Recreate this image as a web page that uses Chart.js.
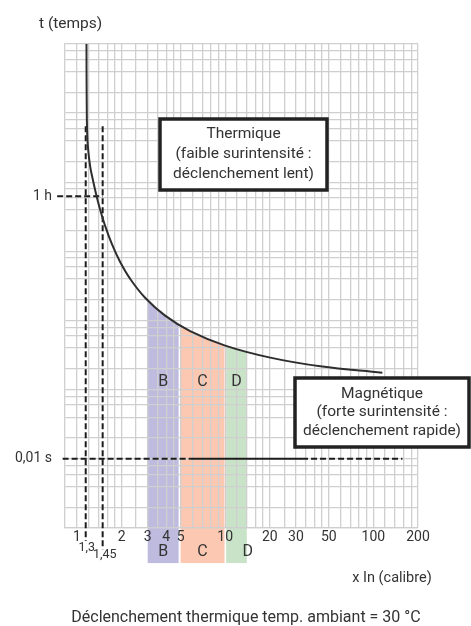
<!DOCTYPE html>
<html>
<head>
<meta charset="utf-8">
<script src="https://cdn.jsdelivr.net/npm/chart.js@4/dist/chart.umd.min.js"></script>
<style>
body { margin: 0; background: #fff; }
#cadre { width: 471px; height: 626px; position: relative; }
</style>
</head>
<body>
<div id="cadre"><canvas id="myChart"></canvas></div>
<script>
//courbe de déclenchement (x = multiple de In, y = temps sur le papier log)
var courbe_x = [1.159, 1.163, 1.177, 1.224, 1.283, 1.344, 1.430, 1.546, 1.724, 1.952, 2.281, 2.881, 3.933, 5.801, 10.0, 20.14, 43.85, 115];
var courbe_y = [1e7, 1.54e6, 4.06e5, 1.75e5, 1.06e5, 6.81e4, 4.07e4, 2.36e4, 1.26e4, 7090, 4035, 2140, 1178, 702, 434, 291, 218, 176];

//zones magnétiques B, C, D
var types_courbe = ["B", "C", "D"];
var zone_debut = [3.0, 5.0, 10.15];
var zone_fin = [4.85, 9.9, 14.0];

//graduations
var x_graduations = [1, 2, 3, 4, 5, 10, 20, 30, 50, 100, 200];
var y_graduations = [62700, 10];
var y_etiquettes = ["1 h", "0,01 s"];

//seuils thermiques 1,3 et 1,45
var seuils_x = [1.145, 1.49];
var seuils_etiquettes = ["1,3", "1,45"];
var seuils_bas = [0.648, 0.49];
var seuils_haut = 6.48e5;

//ligne 0,01 s
var magn_pointille1 = [0.8, 5.8];
var magn_continu = [5.8, 33];
var magn_pointille2 = [33, 157];

var couleurs_zone = ["#bfbbdf", "#fdc8b1", "#c9e3c8"];
var police = "Roboto, 'DejaVu Sans', sans-serif";
var texte = "#333";

//lignes du papier log
var x_grille = [];
[1, 1.2, 1.4, 1.6, 1.8, 2, 2.5, 3, 3.5, 4, 4.5, 5, 6, 7, 8, 9].forEach(function (m) {
    [1, 10, 100].forEach(function (d) {
        var v = Math.round(m * d * 1000) / 1000;
        if (v <= 200) x_grille.push(v);
    });
});
var y_grille = [1e7];
for (var k = 0; k < 7; k++) {
    [1, 2, 4, 6, 8].forEach(function (m) { y_grille.push(m * Math.pow(10, k)); });
}

function proche(a, b) { return Math.abs(a - b) < 1e-6 * Math.max(a, b); }

function pointsSegment(x0, x1, y) { return [{x: x0, y: y}, {x: x1, y: y}]; }

var lignes = [
    {
        data: courbe_x.map(function (v, i) { return {x: v, y: courbe_y[i]}; }),
        borderColor: "#2e2e2e", borderWidth: 2, tension: 0.4
    },
    {data: pointsSegment(0.735, 1.49, 62700), borderDash: [6, 3], clip: false},
    {data: pointsSegment(magn_pointille1[0], magn_pointille1[1], 10), borderDash: [6, 3], clip: false},
    {data: pointsSegment(magn_continu[0], magn_continu[1], 10), clip: false},
    {data: pointsSegment(magn_pointille2[0], magn_pointille2[1], 10), borderDash: [6, 3], clip: false}
];
seuils_x.forEach(function (v, i) {
    lignes.push({data: [{x: v, y: seuils_haut}, {x: v, y: seuils_bas[i]}], borderDash: [6, 3], clip: false});
});
lignes.forEach(function (d) {
    d.showLine = true;
    d.pointRadius = 0;
    d.borderColor = d.borderColor || "#1c1c1c";
    d.borderWidth = d.borderWidth || 2;
});

function ecrire(ctx, txt, x, y, taille, align) {
    ctx.font = taille + "px " + police;
    ctx.fillStyle = texte;
    ctx.textAlign = align || "center";
    ctx.textBaseline = "middle";
    ctx.fillText(txt, x, y);
}

function boite(ctx, x, y, w, h, lignesTexte, pas) {
    ctx.fillStyle = "#fff";
    ctx.fillRect(x, y, w, h);
    ctx.lineWidth = 3.5;
    ctx.strokeStyle = "#222";
    ctx.strokeRect(x, y, w, h);
    var y0 = y + h / 2 - pas * (lignesTexte.length - 1) / 2;
    lignesTexte.forEach(function (t, i) { ecrire(ctx, t, x + w / 2, y0 + i * pas, 15.5); });
}

var annotations = {
    id: "annotations",
    beforeDraw: function (chart) {
        //zones colorées sous la courbe
        var ctx = chart.ctx, sx = chart.scales.x, sy = chart.scales.y;
        var ligne = chart.getDatasetMeta(0).dataset;
        var pts = ligne.points;
        var bas = sy.getPixelForValue(0.31);
        types_courbe.forEach(function (t, i) {
            var x0 = sx.getPixelForValue(zone_debut[i]);
            var x1 = sx.getPixelForValue(zone_fin[i]);
            ctx.save();
            ctx.beginPath();
            ctx.rect(x0, 0, x1 - x0, bas);
            ctx.clip();
            ctx.beginPath();
            ligne.path(ctx);
            ctx.lineTo(pts[pts.length - 1].x, bas);
            ctx.lineTo(pts[0].x, bas);
            ctx.closePath();
            ctx.fillStyle = couleurs_zone[i];
            ctx.fill();
            ctx.restore();
        });
    },
    afterDatasetsDraw: function (chart) {
        var ctx = chart.ctx, sx = chart.scales.x;
        ctx.save();
        //lettres dans les zones et sous l'axe
        types_courbe.forEach(function (t, i) {
            var x0 = sx.getPixelForValue(zone_debut[i]);
            var x1 = sx.getPixelForValue(zone_fin[i]);
            ecrire(ctx, t, (x0 + x1) / 2, 382, 16);
            ecrire(ctx, t, i === 2 ? x1 + 1 : (x0 + x1) / 2, 552, 16);
        });
        seuils_x.forEach(function (v, i) {
            ecrire(ctx, seuils_etiquettes[i], sx.getPixelForValue(v) + (i === 0 ? 1 : 2), i === 0 ? 548 : 555, 12.5);
        });
        //titres
        ecrire(ctx, "t (temps)", 39, 24, 15.5, "left");
        ecrire(ctx, "x In (calibre)", 392, 578, 14.5);
        ecrire(ctx, "Déclenchement thermique temp. ambiant = 30 °C", 246, 618, 16);
        //encadrés
        boite(ctx, 160, 119, 167, 71, ["Thermique", "(faible surintensité :", "déclenchement lent)"], 20);
        boite(ctx, 295, 378, 174, 69, ["Magnétique", "(forte surintensité :", "déclenchement rapide)"], 18.7);
        ctx.restore();
    }
};

var ctx = document.getElementById("myChart");
var myChart = new Chart(ctx, {
    type: "scatter",
    data: {datasets: lignes},
    plugins: [annotations],
    options: {
        responsive: true,
        maintainAspectRatio: false,
        animation: false,
        layout: {padding: {left: 0, right: 53, top: 44, bottom: 0}},
        plugins: {legend: {display: false}, tooltip: {enabled: false}},
        scales: {
            x: {
                type: "logarithmic",
                min: 0.83,
                max: 200,
                afterFit: function (s) { s.height = 98; },
                afterBuildTicks: function (s) {
                    s.ticks = x_grille.map(function (v) { return {value: v}; });
                },
                grid: {color: "#cfcfcf", lineWidth: 1.3, drawTicks: false},
                border: {color: "#cfcfcf", width: 1.3},
                ticks: {
                    autoSkip: false, maxRotation: 0, padding: 1,
                    color: texte, font: {family: police, size: 14},
                    callback: function (v) {
                        for (var i = 0; i < x_graduations.length; i++) {
                            if (proche(v, x_graduations[i])) return String(x_graduations[i]);
                        }
                        return "";
                    }
                }
            },
            y: {
                type: "logarithmic",
                min: 1,
                max: 1e7,
                afterFit: function (s) { s.width = 65; },
                afterBuildTicks: function (s) {
                    var extra = y_graduations.filter(function (g) {
                        return !y_grille.some(function (v) { return proche(v, g); });
                    });
                    s.ticks = y_grille.concat(extra).map(function (v) { return {value: v}; });
                },
                grid: {
                    drawTicks: false, lineWidth: 1.3,
                    color: function (c) {
                        return proche(c.tick.value, y_graduations[0]) ? "rgba(0,0,0,0)" : "#cfcfcf";
                    }
                },
                border: {color: "#cfcfcf", width: 1.3},
                ticks: {
                    autoSkip: false, padding: 13,
                    color: texte, font: {family: police, size: 14},
                    callback: function (v) {
                        for (var i = 0; i < y_graduations.length; i++) {
                            if (proche(v, y_graduations[i])) return y_etiquettes[i];
                        }
                        return "";
                    }
                }
            }
        }
    }
});
</script>
</body>
</html>
